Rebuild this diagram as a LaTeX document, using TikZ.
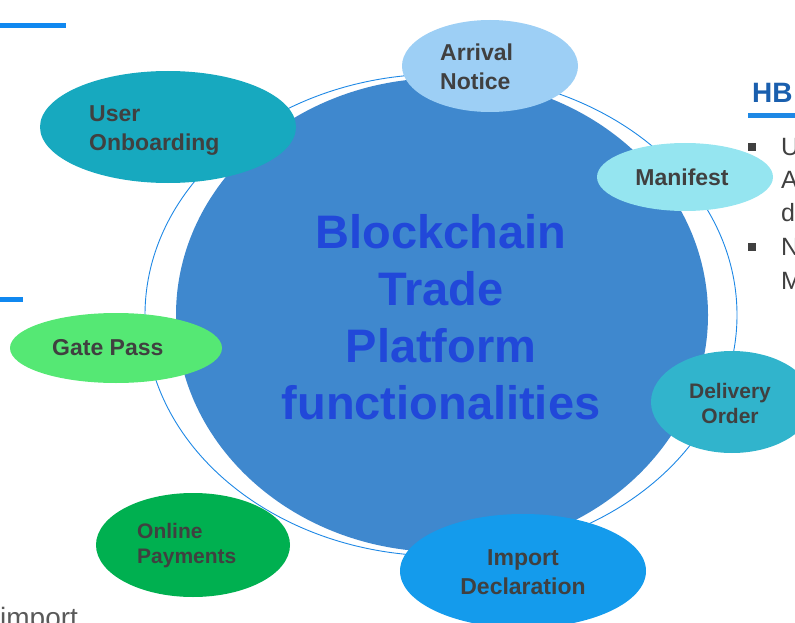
\documentclass[tikz,border=0pt]{standalone}
\usepackage{fontspec}
\setmainfont{Liberation Sans}
\usetikzlibrary{shapes.geometric}
\definecolor{bigfill}{HTML}{3F88CE}
\definecolor{ringc}{HTML}{1E88E5}
\definecolor{titlec}{HTML}{2148D9}
\definecolor{txt}{HTML}{404040}
\definecolor{cArr}{HTML}{9DCFF5}
\definecolor{cUser}{HTML}{17A9BF}
\definecolor{cMan}{HTML}{95E5F0}
\definecolor{cGate}{HTML}{55E874}
\definecolor{cDel}{HTML}{31B4CC}
\definecolor{cPay}{HTML}{00B050}
\definecolor{cImp}{HTML}{149BEC}
\definecolor{hbc}{HTML}{1A5FAE}
\definecolor{barc}{HTML}{1088F0}
\definecolor{graytxt}{HTML}{595959}
\tikzset{
  bubble/.style={ellipse, draw=none, inner sep=0pt},
  btxt/.style={inner sep=0pt, text=txt, font=\bfseries\fontsize{23}{29}\selectfont},
  btxtsm/.style={inner sep=0pt, text=txt, font=\bfseries\fontsize{21}{25}\selectfont},
  sidetxt/.style={inner sep=0pt, anchor=west, text=txt, font=\fontsize{25}{30}\selectfont},
  bar/.style={draw=barc, line width=5pt},
}
\begin{document}
\begin{tikzpicture}[x=1pt,y=-1pt]
\clip (0,0) rectangle (795,623);
\useasboundingbox (0,0) rectangle (795,623);
% top-left bars
\coordinate (b1s) at (0,25.5); \coordinate (b1e) at (66,25.5);
\draw[bar] (b1s) -- (b1e);
\coordinate (b2s) at (0,299); \coordinate (b2e) at (23,299);
\draw[bar] (b2s) -- (b2e);
% ring and main ellipse
\node[bubble, draw=ringc, line width=0.9pt, minimum width=592pt, minimum height=482pt] (ring) at (441,315) {};
\node[bubble, fill=bigfill, minimum width=532pt, minimum height=474pt] (main) at (442,315) {};
\node[inner sep=0pt, align=center, text=titlec, font=\bfseries\fontsize{47}{57}\selectfont] (title) at (441,317) {Blockchain\\Trade\\Platform\\functionalities};
% bubbles
\node[bubble, fill=cArr, minimum width=176pt, minimum height=92pt] (arr) at (490,66) {};
\node[btxt, anchor=west, align=left] (arrT) at (440,67) {Arrival\\Notice};
\node[bubble, fill=cUser, minimum width=256pt, minimum height=112pt] (user) at (168,127) {};
\node[btxt, anchor=west, align=left] (userT) at (89,131) {User\\Onboarding};
\node[bubble, fill=cMan, minimum width=176pt, minimum height=68pt] (man) at (685,177) {};
\node[btxt] (manT) at (682,177) {Manifest};
\node[bubble, fill=cGate, minimum width=212pt, minimum height=70pt] (gate) at (116,348) {};
\node[btxt, anchor=west] (gateT) at (52,348) {Gate Pass};
\node[bubble, fill=cDel, minimum width=162pt, minimum height=102pt] (del) at (732,402) {};
\node[btxtsm, align=center] (delT) at (730,403) {Delivery\\Order};
\node[bubble, fill=cPay, minimum width=194pt, minimum height=104pt] (pay) at (193,545) {};
\node[btxtsm, anchor=west, align=left] (payT) at (137,546) {Online\\Payments};
\node[bubble, fill=cImp, minimum width=246pt, minimum height=114pt] (imp) at (523,571) {};
\node[btxt, align=center] (impT) at (523,572) {Import\\Declaration};
% right side text
\node[inner sep=0pt, anchor=west, text=hbc, font=\bfseries\fontsize{28}{32}\selectfont] (hb) at (752,93) {HB};
\coordinate (ul1) at (748,116); \coordinate (ul2) at (795,116);
\draw[draw=ringc, line width=5pt] (ul1) -- (ul2);
\fill[txt] (748,143) rectangle (756,151);
\fill[txt] (748,243) rectangle (756,251);
\node[sidetxt] (s1) at (781,147) {U};
\node[sidetxt] (s2) at (781,180) {A};
\node[sidetxt] (s3) at (781,213) {d};
\node[sidetxt] (s4) at (781,247) {N};
\node[sidetxt] (s5) at (781,281) {M};
% bottom-left text
\node[inner sep=0pt, anchor=base west, text=graytxt, font=\fontsize{28}{32}\selectfont] (imptxt) at (0,627) {import};
\end{tikzpicture}
\end{document}
